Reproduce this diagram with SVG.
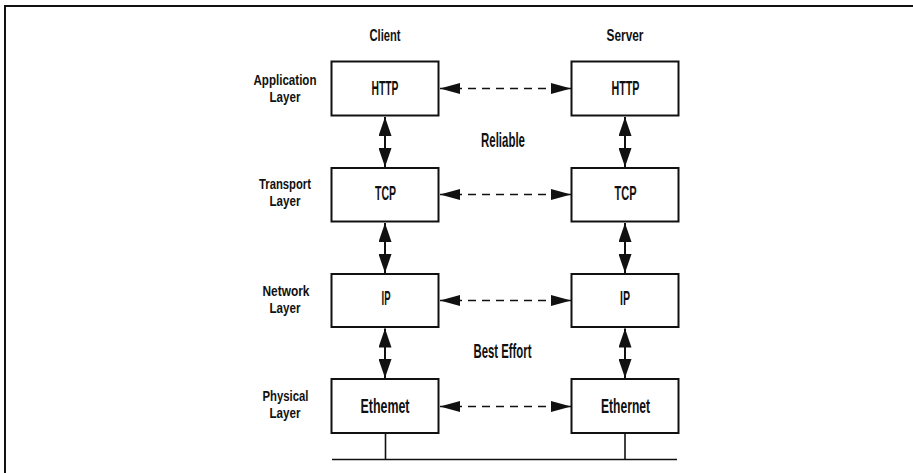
<svg xmlns="http://www.w3.org/2000/svg" width="913" height="473" viewBox="0 0 913 473">
<style>
text{font-family:"Liberation Sans",Arial,sans-serif;font-weight:bold;fill:#111;text-anchor:middle}
.box{fill:#fff;stroke:#111;stroke-width:2}
.bl{font-size:21px}
.sl{font-size:14px}
.hd{font-size:16px}
.frame{stroke:#111;stroke-width:2;fill:none}
.vs{stroke:#111;stroke-width:2;fill:none;marker-start:url(#av);marker-end:url(#av)}
.ds{stroke:#111;stroke-width:1.7;fill:none;stroke-dasharray:8 6;marker-start:url(#ah);marker-end:url(#ah)}
.bus{stroke:#111;stroke-width:1.6;fill:none}
</style>
<defs>
<marker id="av" markerUnits="userSpaceOnUse" viewBox="0 0 19 13" markerWidth="19" markerHeight="13" refX="19" refY="6.5" orient="auto-start-reverse">
<path d="M0,0 L19,6.5 L0,13 Z" fill="#111"/>
</marker>
<marker id="ah" markerUnits="userSpaceOnUse" viewBox="0 0 20 11" markerWidth="20" markerHeight="11" refX="20" refY="5.5" orient="auto-start-reverse">
<path d="M0,0 L20,5.5 L0,11 Z" fill="#111"/>
</marker>
</defs>
<rect width="913" height="473" fill="#fff"/>
<g id="frame">
<line class="frame" x1="4" y1="6" x2="913" y2="6"/>
<line class="frame" x1="5" y1="5" x2="5" y2="473"/>
</g>
<g id="headers">
<text class="hd" x="385" y="40.5" textLength="31" lengthAdjust="spacingAndGlyphs">Client</text>
<text class="hd" x="625" y="40.5" textLength="37" lengthAdjust="spacingAndGlyphs">Server</text>
</g>
<g id="layer-labels">
<text class="sl" x="285" y="85" textLength="63" lengthAdjust="spacingAndGlyphs">Application</text>
<text class="sl" x="285" y="101.5" textLength="31" lengthAdjust="spacingAndGlyphs">Layer</text>
<text class="sl" x="285" y="189" textLength="52" lengthAdjust="spacingAndGlyphs">Transport</text>
<text class="sl" x="285" y="205.5" textLength="31" lengthAdjust="spacingAndGlyphs">Layer</text>
<text class="sl" x="286" y="296" textLength="47" lengthAdjust="spacingAndGlyphs">Network</text>
<text class="sl" x="285" y="313" textLength="31" lengthAdjust="spacingAndGlyphs">Layer</text>
<text class="sl" x="285.5" y="401" textLength="46" lengthAdjust="spacingAndGlyphs">Physical</text>
<text class="sl" x="285" y="418" textLength="31" lengthAdjust="spacingAndGlyphs">Layer</text>
</g>
<g id="client-http"><rect class="box" x="331.5" y="61.5" width="107" height="54"/><text class="bl" x="385" y="95" textLength="27" lengthAdjust="spacingAndGlyphs">HTTP</text></g>
<g id="server-http"><rect class="box" x="571.5" y="61.5" width="107" height="54"/><text class="bl" x="625.5" y="95" textLength="28" lengthAdjust="spacingAndGlyphs">HTTP</text></g>
<g id="client-tcp"><rect class="box" x="331.5" y="168" width="107" height="53.5"/><text class="bl" x="385.5" y="200" textLength="21" lengthAdjust="spacingAndGlyphs">TCP</text></g>
<g id="server-tcp"><rect class="box" x="571.5" y="168" width="107" height="53.5"/><text class="bl" x="625.5" y="200" textLength="22" lengthAdjust="spacingAndGlyphs">TCP</text></g>
<g id="client-ip"><rect class="box" x="331.5" y="274" width="107" height="53"/><text class="bl" x="386" y="305" textLength="9" lengthAdjust="spacingAndGlyphs">IP</text></g>
<g id="server-ip"><rect class="box" x="571.5" y="274" width="107" height="53"/><text class="bl" x="625" y="305" textLength="10" lengthAdjust="spacingAndGlyphs">IP</text></g>
<g id="client-ethernet"><rect class="box" x="331.5" y="379" width="107" height="54"/><text class="bl" x="385" y="413" textLength="49" lengthAdjust="spacingAndGlyphs">Ethemet</text></g>
<g id="server-ethernet"><rect class="box" x="571.5" y="379" width="107" height="54"/><text class="bl" x="625.5" y="413" textLength="49" lengthAdjust="spacingAndGlyphs">Ethernet</text></g>
<g id="connectors">
<line class="vs" x1="385" y1="117" x2="385" y2="167"/>
<line class="vs" x1="385" y1="223" x2="385" y2="273"/>
<line class="vs" x1="385" y1="328.5" x2="385" y2="378"/>
<line class="vs" x1="625" y1="117" x2="625" y2="167"/>
<line class="vs" x1="625" y1="223" x2="625" y2="273"/>
<line class="vs" x1="625" y1="328.5" x2="625" y2="378"/>
<line class="ds" x1="440" y1="88.5" x2="571" y2="88.5"/>
<line class="ds" x1="440" y1="194.5" x2="571" y2="194.5"/>
<line class="ds" x1="440" y1="300.5" x2="571" y2="300.5"/>
<line class="ds" x1="440" y1="406.5" x2="571" y2="406.5"/>
<line class="bus" x1="385.5" y1="433" x2="385.5" y2="459"/>
<line class="bus" x1="625" y1="433" x2="625" y2="459"/>
<line class="bus" x1="332" y1="459.5" x2="677" y2="459.5"/>
</g>
<g id="annotations">
<text class="bl" x="503" y="146.5" textLength="44" lengthAdjust="spacingAndGlyphs">Reliable</text>
<text class="bl" x="502.5" y="358" textLength="58" lengthAdjust="spacingAndGlyphs">Best Effort</text>
</g>
</svg>
